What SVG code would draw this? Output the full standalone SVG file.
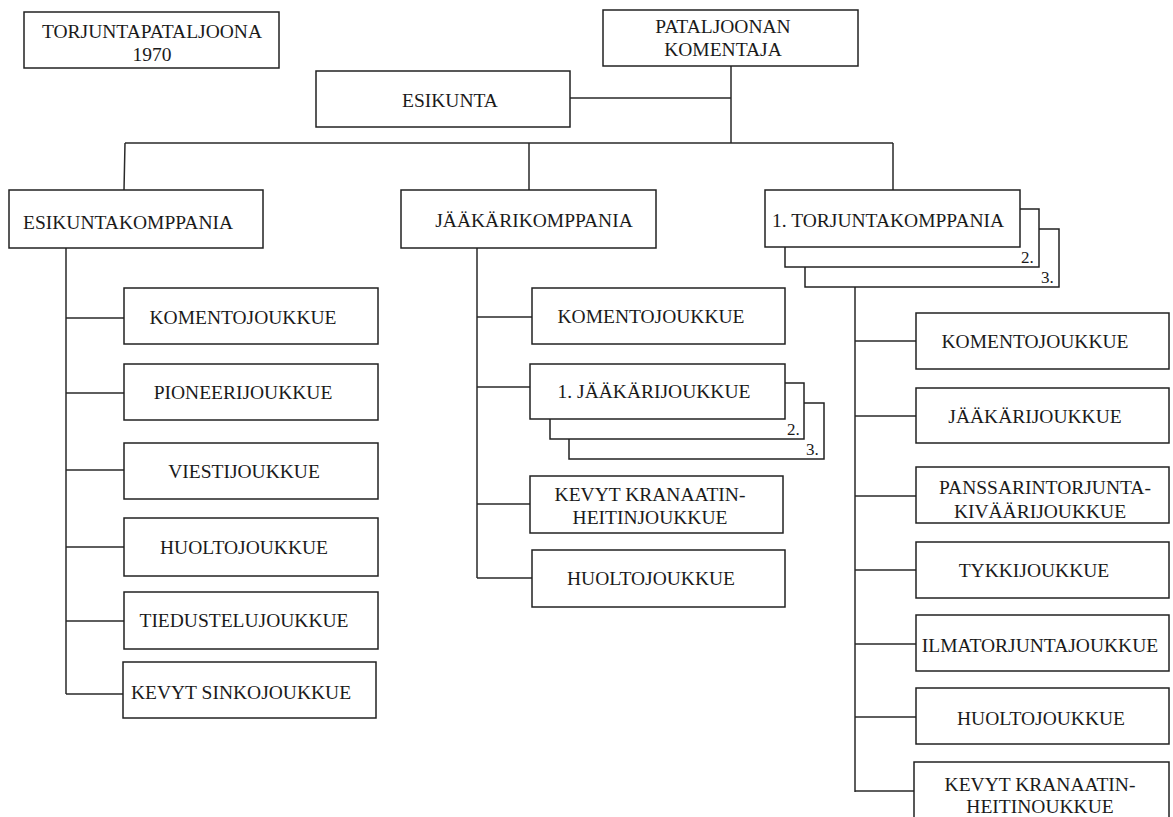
<svg xmlns="http://www.w3.org/2000/svg" width="1173" height="817" viewBox="0 0 1173 817">
<style>
.b{fill:#fff;stroke:#222;stroke-width:1.5}
.t{font-family:"Liberation Serif","Times New Roman",serif;font-size:19.5px;fill:#1a1a1a}
.m{text-anchor:middle}
.s{font-size:17px}
.c{fill:none;stroke:#2a2a2a;stroke-width:1.5}
</style>
<rect width="1173" height="817" fill="#fff"/>
<g id="connectors">
<path class="c" d="M731,66V143M570,98H731M125,143H893M125,143L124,190M529,143V190M893,143V190"/>
<path class="c" d="M66,248V694M66,318H124M66,393H124M66,470H124M66,547H124M66,621H124M66,694H123"/>
<path class="c" d="M477,248V578M477,317H532M477,387H530M477,504H530M477,578H532"/>
<path class="c" d="M855,287V792M855,341H916M855,416H916M855,496H916M855,570H916M855,644H916M855,717H916M855,791H914"/>
</g>
<g id="title"><rect class="b" x="24" y="12" width="255" height="56"/><text class="t m" x="152" y="38">TORJUNTAPATALJOONA</text><text class="t m" x="152" y="61">1970</text></g>
<g id="komentaja"><rect class="b" x="603" y="10" width="255" height="56"/><text class="t m" x="723" y="33">PATALJOONAN</text><text class="t m" x="723" y="56">KOMENTAJA</text></g>
<g id="esikunta"><rect class="b" x="316" y="71" width="254" height="56"/><text class="t" x="402" y="107">ESIKUNTA</text></g>
<g id="esikuntakomppania"><rect class="b" x="9" y="190" width="254" height="58"/><text class="t" x="23" y="229">ESIKUNTAKOMPPANIA</text></g>
<g id="jaakarikomppania"><rect class="b" x="401" y="190" width="255" height="58"/><text class="t m" x="534" y="227">JÄÄKÄRIKOMPPANIA</text></g>
<g id="torjuntakomppania">
<rect class="b" x="805" y="229" width="254" height="58"/><text class="t s" x="1041" y="283">3.</text>
<rect class="b" x="785" y="209" width="254" height="58"/><text class="t s" x="1021" y="263">2.</text>
<rect class="b" x="765" y="190" width="255" height="57"/><text class="t" x="772" y="227">1. TORJUNTAKOMPPANIA</text>
</g>
<g id="ek-komento"><rect class="b" x="124" y="288" width="254" height="56"/><text class="t m" x="243" y="324">KOMENTOJOUKKUE</text></g>
<g id="ek-pioneeri"><rect class="b" x="124" y="364" width="254" height="56"/><text class="t m" x="243" y="399">PIONEERIJOUKKUE</text></g>
<g id="ek-viesti"><rect class="b" x="124" y="443" width="254" height="56"/><text class="t m" x="244" y="478">VIESTIJOUKKUE</text></g>
<g id="ek-huolto"><rect class="b" x="124" y="518" width="254" height="58"/><text class="t m" x="244" y="554">HUOLTOJOUKKUE</text></g>
<g id="ek-tiedustelu"><rect class="b" x="124" y="592" width="254" height="57"/><text class="t m" x="244" y="627">TIEDUSTELUJOUKKUE</text></g>
<g id="ek-sinko"><rect class="b" x="123" y="662" width="253" height="56"/><text class="t m" x="241" y="699">KEVYT SINKOJOUKKUE</text></g>
<g id="jk-komento"><rect class="b" x="532" y="288" width="253" height="56"/><text class="t m" x="651" y="323">KOMENTOJOUKKUE</text></g>
<g id="jk-jaakari">
<rect class="b" x="569" y="403" width="255" height="56"/><text class="t s" x="806" y="455">3.</text>
<rect class="b" x="550" y="383" width="254" height="56"/><text class="t s" x="787" y="435">2.</text>
<rect class="b" x="530" y="364" width="255" height="55"/><text class="t m" x="654" y="398">1. JÄÄKÄRIJOUKKUE</text>
</g>
<g id="jk-kranaatin"><rect class="b" x="530" y="476" width="253" height="57"/><text class="t m" x="650" y="501">KEVYT KRANAATIN-</text><text class="t m" x="650" y="524">HEITINJOUKKUE</text></g>
<g id="jk-huolto"><rect class="b" x="532" y="550" width="253" height="57"/><text class="t m" x="651" y="585">HUOLTOJOUKKUE</text></g>
<g id="tk-komento"><rect class="b" x="916" y="313" width="253" height="56"/><text class="t m" x="1035" y="348">KOMENTOJOUKKUE</text></g>
<g id="tk-jaakari"><rect class="b" x="916" y="388" width="253" height="55"/><text class="t m" x="1035" y="423">JÄÄKÄRIJOUKKUE</text></g>
<g id="tk-panssari"><rect class="b" x="916" y="467" width="253" height="56"/><text class="t m" x="1045" y="494">PANSSARINTORJUNTA-</text><text class="t m" x="1040" y="518">KIVÄÄRIJOUKKUE</text></g>
<g id="tk-tykki"><rect class="b" x="916" y="542" width="253" height="56"/><text class="t m" x="1034" y="577">TYKKIJOUKKUE</text></g>
<g id="tk-ilmatorjunta"><rect class="b" x="916" y="615" width="253" height="56"/><text class="t m" x="1040" y="652">ILMATORJUNTAJOUKKUE</text></g>
<g id="tk-huolto"><rect class="b" x="916" y="688" width="253" height="56"/><text class="t m" x="1041" y="725">HUOLTOJOUKKUE</text></g>
<g id="tk-kranaatin"><rect class="b" x="914" y="762" width="255" height="70"/><text class="t m" x="1040" y="791">KEVYT KRANAATIN-</text><text class="t m" x="1040" y="813">HEITINOUKKUE</text></g>
</svg>
